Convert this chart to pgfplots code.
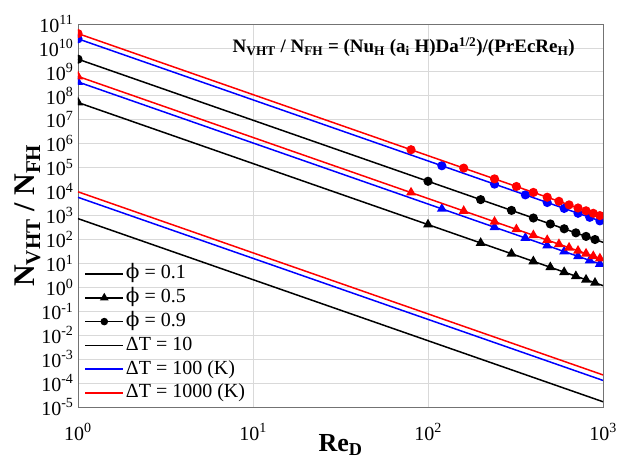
\documentclass[border=0pt]{standalone}
\usepackage{fontspec}
\setmainfont{Liberation Serif}
\newfontfamily\dvs{DejaVu Serif}
\usepackage{pgfplots}
\pgfplotsset{compat=1.18}
\newcommand{\phiv}{{\dvs ϕ}}
\begin{document}
\begin{tikzpicture}
\begin{axis}[
  name=ax,
  scale only axis, width=525pt, height=383pt,
  xmode=log, ymode=log,
  xmin=1, xmax=1000, ymin=1e-5, ymax=1e11,
  xtick={1,10,100,1000},
  xticklabels={10\textsuperscript{0},10\textsuperscript{1},10\textsuperscript{2},10\textsuperscript{3}},
  ytick={1e-5,1e-4,1e-3,1e-2,1e-1,1,1e1,1e2,1e3,1e4,1e5,1e6,1e7,1e8,1e9,1e10,1e11},
  yticklabels={10\textsuperscript{-5},10\textsuperscript{-4},10\textsuperscript{-3},10\textsuperscript{-2},10\textsuperscript{-1},10\textsuperscript{0},10\textsuperscript{1},10\textsuperscript{2},10\textsuperscript{3},10\textsuperscript{4},10\textsuperscript{5},10\textsuperscript{6},10\textsuperscript{7},10\textsuperscript{8},10\textsuperscript{9},10\textsuperscript{10},10\textsuperscript{11}},
  grid=major, major grid style={black!15, line width=0.8pt},
  axis line style={black!55, line width=0.8pt},
  major tick length=0pt, minor tick length=0pt,
  tick label style={font=\fontsize{20}{20}\selectfont},
  xticklabel style={yshift=-13pt},
  yticklabel style={xshift=-1pt},
  xlabel={\textbf{Re\textsubscript{D}}},
  xlabel style={at={(axis description cs:0.5,0)}, anchor=north, yshift=-24pt, font=\fontsize{26}{26}\selectfont},
  ylabel={\textbf{N\textsubscript{VHT} / N\textsubscript{FH}}},
  ylabel style={at={(axis description cs:0,0.5)}, anchor=south, yshift=34pt, font=\fontsize{30}{30}\selectfont},
  clip marker paths=true,
  legend style={at={(0.012,0.005)}, anchor=south west, draw=none, fill=none,
    font=\fontsize{20}{24}\selectfont, row sep=0pt, inner sep=0pt,
    nodes={text height=15pt, text depth=5pt, inner sep=1.9pt}},
  legend cell align=left,
  legend image code/.code={\draw[mark repeat=2,mark phase=2] plot coordinates {(0pt,0pt) (19pt,0pt) (38pt,0pt)};},
]
% legend images
\addlegendimage{black, line width=1.5pt}
\addlegendentry{\phiv\ = 0.1}
\addlegendimage{black, line width=1.5pt, mark=triangle*, mark size=3.5pt}
\addlegendentry{\phiv\ = 0.5}
\addlegendimage{black, line width=1.5pt, mark=*, mark size=3pt}
\addlegendentry{\phiv\ = 0.9}
\addlegendimage{black, line width=1.6pt}
\addlegendentry{ΔT = 10}
\addlegendimage{blue, line width=1.5pt}
\addlegendentry{ΔT = 100 (K)}
\addlegendimage{red, line width=1.5pt}
\addlegendentry{ΔT = 1000 (K)}

% phi = 0.1
\addplot[black, line width=1.5pt, forget plot] coordinates {(1,7.41e2) (1000,1.66e-5)};
\addplot[blue, line width=1.5pt, forget plot] coordinates {(1,5.75e3) (1000,1.29e-4)};
\addplot[red, line width=1.5pt, forget plot] coordinates {(1,9.77e3) (1000,2.19e-4)};

% phi = 0.5 (triangles)
\addplot[black, line width=1.5pt, mark=triangle*, mark size=4.3pt, mark indices={1,2,3,4,5,6,7,8,9,10}, forget plot] coordinates {
(1,5.25e7) (100,4.17e2) (200,7.12e1) (300,2.53e1) (400,1.215e1) (500,6.88) (600,4.32) (700,2.92) (800,2.08) (900,1.537) (1000,1.175)};
\addplot[blue, line width=1.5pt, mark=triangle*, mark size=4.3pt, mark indices={1,2,3,4,5,6,7,8,9}, forget plot] coordinates {
(1,3.80e8) (120,1.897e3) (240,3.24e2) (360,1.152e2) (480,5.53e1) (600,3.13e1) (720,1.967e1) (840,1.327e1) (960,9.44) (1000,8.51)};
\addplot[red, line width=1.5pt, mark=triangle*, mark size=4.3pt, mark indices={1,2,3,4,5,6,7,8,9,10,11,12,13}, forget plot] coordinates {
(1,6.46e8) (80,9.06e3) (160,1.547e3) (240,5.50e2) (320,2.64e2) (400,1.495e2) (480,9.40e1) (560,6.34e1) (640,4.51e1) (720,3.34e1) (800,2.55e1) (880,2.00e1) (960,1.604e1) (1000,1.445e1)};

% phi = 0.9 (circles)
\addplot[black, line width=1.5pt, mark=*, mark size=3.8pt, mark indices={1,2,3,4,5,6,7,8,9,10}, forget plot] coordinates {
(1,3.39e9) (100,2.69e4) (200,4.60e3) (300,1.635e3) (400,7.85e2) (500,4.44e2) (600,2.79e2) (700,1.884e2) (800,1.340e2) (900,9.93e1) (1000,7.59e1)};
\addplot[blue, line width=1.5pt, mark=*, mark size=3.8pt, mark indices={1,2,3,4,5,6,7,8,9}, forget plot] coordinates {
(1,2.40e10) (120,1.197e5) (240,2.044e4) (360,7.27e3) (480,3.49e3) (600,1.975e3) (720,1.241e3) (840,8.38e2) (960,5.96e2) (1000,5.37e2)};
\addplot[red, line width=1.5pt, mark=*, mark size=3.8pt, mark indices={1,2,3,4,5,6,7,8,9,10,11,12,13}, forget plot] coordinates {
(1,3.98e10) (80,5.59e5) (160,9.54e4) (240,3.39e4) (320,1.629e4) (400,9.22e3) (480,5.79e3) (560,3.91e3) (640,2.78e3) (720,2.06e3) (800,1.574e3) (880,1.235e3) (960,9.89e2) (1000,8.91e2)};

\node[anchor=east, font=\fontsize{19}{19}\selectfont\bfseries] at (rel axis cs:0.953,0.94)
  {N\textsubscript{VHT} / N\textsubscript{FH} = (Nu\textsubscript{H} (a\textsubscript{i} H)Da\textsuperscript{1/2})/(PrEcRe\textsubscript{H})};
\end{axis}
\pgfresetboundingbox
\path ([xshift=-78pt,yshift=-59pt]ax.south west) rectangle ([xshift=15pt,yshift=24pt]ax.north east);
\end{tikzpicture}
\end{document}
